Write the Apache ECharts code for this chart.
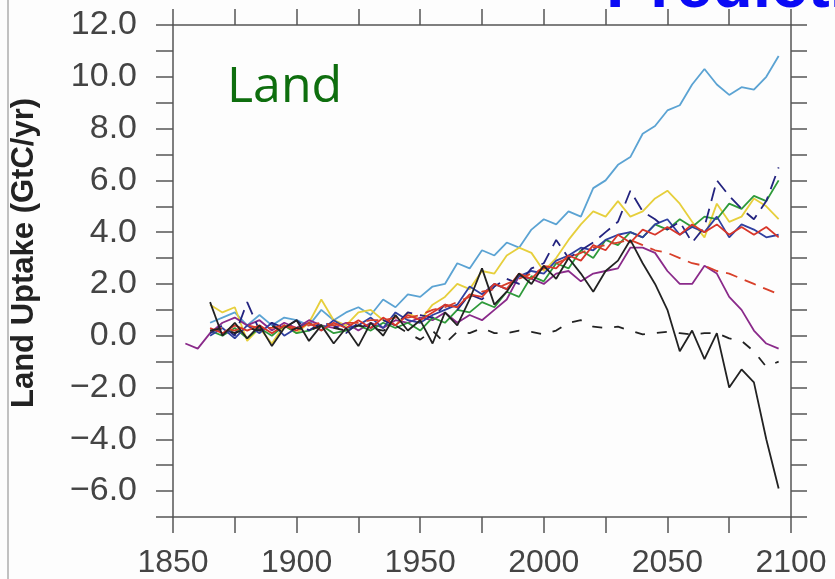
<!DOCTYPE html>
<html>
<head>
<meta charset="utf-8">
<script src="https://cdn.jsdelivr.net/npm/echarts@6/dist/echarts.min.js"></script>
<style>
  html, body { margin: 0; padding: 0; background: #fdfdfd; }
  #chart { width: 835px; height: 579px; }
</style>
</head>
<body>
<div id="chart"></div>
<script>
// years every 5 yr, 1855..2095
const years = [1855,1860,1865,1870,1875,1880,1885,1890,1895,1900,1905,1910,1915,1920,1925,1930,1935,1940,1945,1950,
  1955,1960,1965,1970,1975,1980,1985,1990,1995,2000,2005,2010,2015,2020,2025,2030,2035,2040,2045,2050,
  2055,2060,2065,2070,2075,2080,2085,2090,2095];

const lightBlue = [null,null,0.5,0.7,0.9,0.4,0.8,0.4,0.7,0.6,0.4,1.0,0.6,0.9,1.1,0.8,1.4,1.1,1.6,1.5,
  1.9,2.0,2.8,2.6,3.3,3.1,3.6,3.4,4.1,4.5,4.3,4.8,4.6,5.7,6.0,6.6,6.9,7.8,8.1,8.7,
  8.9,9.7,10.3,9.7,9.3,9.6,9.5,10.0,10.8];
const yellow = [null,null,1.2,0.9,1.1,-0.2,0.3,-0.3,0.4,0.1,0.5,1.4,0.6,0.4,0.9,1.0,0.6,0.4,0.9,0.6,
  1.2,1.5,2.0,1.8,2.5,2.4,3.1,3.4,3.2,2.5,3.0,3.7,4.3,4.8,4.6,5.2,4.6,4.8,5.3,5.6,
  5.1,4.4,3.8,5.1,4.4,4.6,5.3,5.0,4.5];
const purple = [-0.3,-0.5,0.1,0.5,0.7,0.4,0.6,0.2,0.5,0.3,0.6,0.4,0.3,0.5,0.2,0.5,0.3,0.6,0.5,0.7,
  0.6,0.9,0.5,0.8,0.6,1.0,1.4,2.3,2.2,2.0,2.4,2.5,2.1,2.4,2.5,2.6,3.4,3.4,3.2,2.5,
  2.0,2.0,2.7,2.4,1.5,1.0,0.2,-0.3,-0.5];
const green = [null,null,0.2,0.0,0.3,-0.1,0.3,0.0,0.4,0.1,0.2,0.4,0.1,0.2,0.4,0.2,0.5,0.3,0.5,0.2,
  0.7,0.5,1.0,0.9,1.3,1.1,1.7,1.5,2.3,2.1,2.8,2.6,3.3,3.0,3.7,3.5,4.0,3.8,4.3,4.1,
  4.5,4.2,4.6,4.5,5.1,4.9,5.4,5.2,6.0];
const red = [null,null,0.3,0.1,0.4,0.2,0.4,0.1,0.4,0.2,0.5,0.2,0.5,0.3,0.6,0.3,0.7,0.4,0.8,0.6,
  0.9,1.2,1.1,1.6,1.5,2.0,1.8,2.4,2.2,2.7,2.6,3.1,2.9,3.5,3.3,3.9,3.6,4.1,3.9,4.2,
  3.9,4.3,4.0,4.3,3.9,4.2,3.9,4.2,3.8];
const redDashed = [null,null,0.2,0.3,0.2,0.4,0.3,0.3,0.4,0.3,0.4,0.5,0.4,0.5,0.5,0.6,0.6,0.7,0.7,0.8,
  1.0,1.1,1.3,1.5,1.7,1.8,2.0,2.2,2.4,2.6,2.8,3.0,3.2,3.4,3.5,3.6,3.7,3.5,3.3,3.2,
  3.0,2.8,2.7,2.5,2.4,2.2,2.0,1.8,1.6];
const black = [null,null,1.3,0.0,0.5,-0.1,0.4,-0.4,0.3,0.6,-0.2,0.4,-0.3,0.3,-0.4,0.5,0.0,0.8,0.2,0.6,
  -0.3,0.9,0.4,1.4,2.6,1.2,1.7,2.4,2.0,2.7,2.2,3.0,2.4,1.7,2.5,2.9,3.7,2.8,2.0,1.0,
  -0.6,0.2,-0.9,0.1,-2.0,-1.3,-1.8,-4.0,-5.9];
const blackDashed = [null,null,0.2,0.3,0.1,0.3,0.2,0.4,0.1,0.3,0.2,0.4,0.3,0.2,0.4,0.3,0.2,0.4,0.1,-0.15,
  0.2,-0.3,0.15,0.1,0.3,0.1,0.1,0.2,0.15,0.05,0.2,0.5,0.6,0.35,0.3,0.35,0.2,0.05,0.1,0.15,
  0.1,0.05,0.1,0.1,-0.1,-0.2,-0.6,-1.2,-1.0];
const navyDashed = [null,null,0.1,0.4,0.0,1.3,0.2,0.5,0.3,0.6,0.2,0.5,0.4,0.1,0.5,0.3,0.6,0.4,0.9,0.8,
  0.7,1.2,1.0,1.6,1.4,1.9,2.2,2.0,2.6,2.8,3.7,3.0,3.3,3.6,4.0,4.4,5.6,4.8,4.5,4.1,
  4.4,3.6,4.2,6.0,5.4,4.9,4.5,5.2,6.5];
const blueSolid = [null,null,0.0,0.3,-0.1,0.4,0.1,0.5,0.0,0.3,0.5,0.2,0.6,0.3,0.4,0.7,0.3,0.9,0.6,0.5,
  0.8,1.0,1.2,1.9,1.6,2.0,1.8,2.3,2.5,2.4,2.9,3.1,3.4,3.3,3.7,3.9,4.0,3.8,4.3,4.5,
  3.9,4.2,4.0,4.6,3.8,4.3,4.1,3.8,3.9];

const yTicks = [-6, -4, -2, 0, 2, 4, 6, 8, 10, 12];
const xTicks = [1850, 1900, 1950, 2000, 2050, 2100];

function pairs(vals) {
  const out = [];
  vals.forEach((v, i) => { if (v !== null) out.push([years[i], v]); });
  return out;
}

function line(name, vals, color, dash) {
  return {
    name: name,
    type: 'line',
    data: pairs(vals),
    showSymbol: false,
    silent: true,
    lineStyle: { color: color, width: 1.8, type: dash || 'solid' },
    z: 3
  };
}

const axisCol = '#555';
const font = '"Liberation Sans", Arial, sans-serif';

function frameAxis(extra) {
  return Object.assign({
    type: 'value',
    axisLine: { show: true, onZero: false, lineStyle: { color: axisCol, width: 1.5 } },
    axisTick: { show: true, length: 16, lineStyle: { color: axisCol, width: 1.5 } },
    splitLine: { show: false },
    axisLabel: { show: false }
  }, extra);
}

const chart = echarts.init(document.getElementById('chart'));
chart.setOption({
  backgroundColor: '#fdfdfd',
  animation: false,
  grid: { left: 173, right: 44, top: 25, bottom: 62 },
  xAxis: [
    frameAxis({
      min: 1850, max: 2100, interval: 25, position: 'bottom',
      axisLabel: {
        margin: 30, fontSize: 32, color: '#444', fontFamily: font,
        formatter: v => xTicks.includes(v) ? String(v) : ''
      }
    }),
    frameAxis({ min: 1850, max: 2100, interval: 25, position: 'top' })
  ],
  yAxis: [
    frameAxis({
      min: -7, max: 12, interval: 1, position: 'left',
      axisTick: { show: true, length: 17, lineStyle: { color: axisCol, width: 1.5 } },
      axisLabel: {
        margin: 36, fontSize: 34, color: '#444', fontFamily: font,
        formatter: v => yTicks.includes(v) ? (v < 0 ? '\u2212' + Math.abs(v).toFixed(1) : v.toFixed(1)) : ''
      }
    }),
    frameAxis({ min: -7, max: 12, interval: 1, position: 'right' })
  ],
  graphic: [
    { type: 'line', shape: { x1: 8, y1: 0, x2: 8, y2: 579 }, style: { stroke: '#999', lineWidth: 1.2 } },
    {
      type: 'text', x: 24, y: 253, rotation: Math.PI / 2,
      style: { text: 'Land Uptake (GtC/yr)', font: 'bold 31px ' + font, fill: '#222', align: 'center', verticalAlign: 'middle' }
    },
    {
      type: 'text', x: 227, y: 88,
      style: { text: 'Land', font: '50px "Open Sans", sans-serif', fill: '#0e6e0e', align: 'left', verticalAlign: 'middle' }
    },
    {
      type: 'text', x: 606, y: 22,
      style: { text: 'Prediction', font: 'bold 66px ' + font, fill: '#0a0af5', align: 'left', verticalAlign: 'bottom' }
    }
  ],
  series: [
    line('Light blue', lightBlue, '#5ba3d3'),
    line('Yellow', yellow, '#e6cf3c'),
    line('Purple', purple, '#8a2a8a'),
    line('Green', green, '#2e9a3a'),
    line('Blue', blueSolid, '#3040a0'),
    line('Navy dashed', navyDashed, '#23237f', [14, 8]),
    line('Red', red, '#d8362a'),
    line('Red dashed', redDashed, '#d8402a', [12, 8]),
    line('Black dashed', blackDashed, '#222', [10, 12]),
    line('Black', black, '#222')
  ]
});
</script>
</body>
</html>
